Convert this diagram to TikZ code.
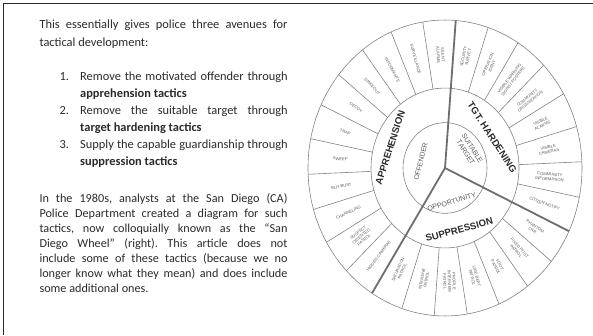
\documentclass[tikz,border=0pt]{standalone}
\usepackage{fontspec}
\setmainfont{Carlito}
\newfontfamily\kolo{Liberation Sans}
\usetikzlibrary{calc}
\frenchspacing

\definecolor{crta}{HTML}{828282}
\definecolor{debela}{HTML}{6E6E6E}
\definecolor{crnilo}{HTML}{2A2A2A}
\definecolor{siva}{HTML}{5A5A5A}

\tikzset{
  odstavek/.style={anchor=base west,inner sep=0pt,align=justify,text=crnilo},
  stevilka/.style={anchor=base west,inner sep=0pt,text=crnilo,font=\fontsize{12.4}{16.6}\selectfont},
  polje/.style={font=\kolo\fontsize{4.1}{4.7}\selectfont,align=center,inner sep=0pt,text=siva},
  obroc/.style={font=\kolo\bfseries\fontsize{9.6}{10}\selectfont,inner sep=0pt,text=crnilo},
  jedro/.style={font=\kolo\fontsize{7}{7.6}\selectfont,align=center,inner sep=0pt,text=siva}
}

\begin{document}
\begin{tikzpicture}[x=1pt,y=1pt]
\useasboundingbox (0,0) rectangle (593,335);
\coordinate (ol) at (3.7,0);
\coordinate (zl) at (3.7,331.3);
\coordinate (zd) at (593,331.3);
\draw[crnilo,line width=1.5pt] (ol) -- (zl) -- (zd);

\node[odstavek,text width=248pt,font=\fontsize{12.4}{17.5}\selectfont] (uvod) at (39.3,306)
  {This essentially gives police three avenues for\linebreak tactical development:};

\node[stevilka] (st_1) at (59.3,254.5) {1.};
\node[odstavek,text width=207.5pt,font=\fontsize{12.4}{16.6}\selectfont] (t_1) at (80,254.5)
  {Remove the motivated offender through\linebreak \textbf{apprehension tactics}};
\node[stevilka] (st_2) at (59.3,220) {2.};
\node[odstavek,text width=207.5pt,font=\fontsize{12.4}{16.6}\selectfont] (t_2) at (80,220)
  {Remove the suitable target through\linebreak \textbf{target hardening tactics}};
\node[stevilka] (st_3) at (59.3,186) {3.};
\node[odstavek,text width=207.5pt,font=\fontsize{12.4}{16.6}\selectfont] (t_3) at (80,186)
  {Supply the capable guardianship through\linebreak \textbf{suppression tactics}};

\node[odstavek,text width=248pt,font=\fontsize{12.2}{15.07}\selectfont] (clanek) at (39.3,132.7)
  {In the 1980s, analysts at the San Diego (CA)\linebreak
   Police Department created a diagram for such\linebreak
   tactics, now colloquially known as the “San\linebreak
   Diego Wheel” (right). This article does not\linebreak
   include some of these tactics (because we no\linebreak
   longer know what they mean) and does include\linebreak
   some additional ones.};

\begin{scope}[shift={(445,167)},yscale=1.08]
\coordinate (s) at (0,0);
\draw[crta,line width=0.6pt] (s) circle (137);
\draw[crta,line width=0.6pt] (s) circle (74);
\draw[crta,line width=0.6pt] (s) circle (42);
\pgfmathsetmacro{\k}{360/26}
\foreach \i in {0,...,25} {
  \pgfmathsetmacro{\kot}{85.5+\i*\k}
  \draw[crta,line width=0.6pt] (\kot:74) -- (\kot:137);
}
\foreach \i in {0,11,18} {
  \pgfmathsetmacro{\kot}{85.5+\i*\k}
  \draw[debela,line width=1.8pt] (s) -- (\kot:137);
}
\foreach \napis [count=\i from 0] in {{SILENT\\ALARMS},SURVEILLANCE,INFORMANTS,STAKEOUT,
    DECOY,TRAP,SWEEP,BUY-BUST,CHANNELING,{SUSPECT\\ORIENTED\\PATROL},{HIDDEN CAMERAS},
    {SATURATION\\PATROL},{INTENSIVE\\PATROL},{PROFILE\\INTERVIEW\\PATROL},{LINE BEAT\\PATROL},
    {FOOT\\PATROL},{FIXED POST\\PATROL},{PHANTOM\\CAR},{CITIZEN NOTIFY},{COMMUNITY\\INFORMATION},
    {VISIBLE\\CAMERAS},{VISIBLE\\ALARMS},{COMMUNITY\\ORGANIZATION},{VISIBLE WARNING\\SIGNS / POSTERS},
    {OPERATION\\IDENT},{SECURITY\\SURVEY}} {
  \pgfmathsetmacro{\kot}{85.5+(\i+0.5)*\k}
  \pgfmathsetmacro{\rot}{atan2(1.08*sin(\kot),cos(\kot))+(cos(\kot)<0)*180}
  \node[polje,rotate=\rot] (c_\i) at (\kot:105) {\napis};
}
\node[obroc,rotate=72] (apr) at (161:58) {APPREHENSION};
\node[obroc,rotate=-57] (tgt) at (31:55) {TGT. HARDENING};
\node[obroc,rotate=15] (sup) at (-76:59) {SUPPRESSION};
\node[jedro,rotate=76] (off) at (166:25) {OFFENDER};
\node[jedro,rotate=-58] (tar) at (34:29) {SUITABLE\\TARGET};
\node[jedro,rotate=17] (opp) at (-78:32) {OPPORTUNITY};
\end{scope}
\end{tikzpicture}
\end{document}
